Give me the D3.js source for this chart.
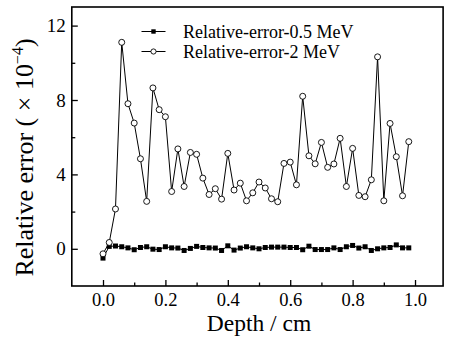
<!DOCTYPE html>
<html><head><meta charset="utf-8">
<script src="https://cdn.jsdelivr.net/npm/d3@7"></script>
<style>html,body{margin:0;padding:0;background:#fff;}svg{display:block;}</style>
</head><body>
<svg id="c" width="453" height="346"></svg>
<script>
const depth = d3.range(50).map(i => +(i * 0.02).toFixed(2));
const err05 = [-0.5, 0.13, 0.15, 0.11, 0.05, -0.05, 0.07, 0.11, -0.02, -0.04,
  0.11, 0.05, 0.04, -0.09, 0.02, 0.13, 0.07, 0.05, 0.04, -0.09,
  0.16, -0.07, 0.04, 0.11, 0.05, 0.0, 0.07, 0.09, 0.09, 0.09,
  0.07, 0.07, -0.05, 0.14, -0.04, -0.04, -0.04, 0.05, -0.04, 0.11,
  0.18, 0.04, 0.11, -0.09, 0.0, 0.05, 0.07, 0.21, 0.05, 0.05];
const err2 = [-0.27, 0.34, 2.14, 11.1, 7.8, 6.76, 4.84, 2.55, 8.65, 7.48,
  7.1, 3.08, 5.37, 3.35, 5.18, 5.08, 3.8, 2.92, 3.23, 2.67,
  5.13, 3.16, 3.53, 2.58, 3.01, 3.59, 3.27, 2.69, 2.53, 4.59,
  4.66, 3.44, 8.2, 5.0, 4.57, 5.72, 4.38, 4.56, 5.94, 3.35,
  5.4, 2.87, 2.8, 3.71, 10.32, 2.58, 6.74, 4.95, 2.85, 5.76];
const xTicks = [0, 0.2, 0.4, 0.6, 0.8, 1.0];
const yTicks = [0, 4, 8, 12];
const seriesNames = ["Relative-error-0.5 MeV", "Relative-error-2 MeV"];

const FONT = "'Liberation Serif','Times New Roman',serif";
const svg = d3.select("#c");
const x = d3.scaleLinear().domain([-0.1, 1.09]).range([71.8, 443.1]);
const y = d3.scaleLinear().domain([-2, 13]).range([286, 7]);
const L = x.range()[0], R = x.range()[1], T = y.range()[1], B = y.range()[0];

// frame
svg.append("rect").attr("x", L).attr("y", T).attr("width", R - L).attr("height", B - T)
  .attr("fill", "none").attr("stroke", "#000").attr("stroke-width", 1.6);

// x axis ticks (inward)
const xMinor = [0.1, 0.3, 0.5, 0.7, 0.9];
const gx = svg.append("g").attr("transform", `translate(0,${B})`)
  .call(d3.axisBottom(x).tickValues(xTicks).tickSize(-6).tickPadding(7).tickFormat(d3.format(".1f")));
gx.select(".domain").remove();
gx.selectAll(".tick line").attr("stroke-width", 1.3);
gx.selectAll("text").attr("font-family", FONT).attr("font-size", 18.5).attr("fill", "#000");
const gxm = svg.append("g").attr("transform", `translate(0,${B})`)
  .call(d3.axisBottom(x).tickValues(xMinor).tickSize(-3.5).tickFormat(""));
gxm.select(".domain").remove();
gxm.selectAll(".tick line").attr("stroke-width", 1.3);

// y axis ticks
const yMinor = [2, 6, 10];
const gy = svg.append("g").attr("transform", `translate(${L},0)`)
  .call(d3.axisLeft(y).tickValues(yTicks).tickSize(-6).tickPadding(6));
gy.select(".domain").remove();
gy.selectAll(".tick line").attr("stroke-width", 1.3);
gy.selectAll("text").attr("font-family", FONT).attr("font-size", 19).attr("fill", "#000");
const gym = svg.append("g").attr("transform", `translate(${L},0)`)
  .call(d3.axisLeft(y).tickValues(yMinor).tickSize(-3.5).tickFormat(""));
gym.select(".domain").remove();
gym.selectAll(".tick line").attr("stroke-width", 1.3);

// axis titles
svg.append("text").attr("x", x(0.5)).attr("y", 331).attr("text-anchor", "middle")
  .attr("font-family", FONT).attr("font-size", 23.5).text("Depth / cm");
const yt = svg.append("text").attr("transform", "translate(33,157.5) rotate(-90)")
  .attr("text-anchor", "middle").attr("font-family", FONT).attr("font-size", 26);
yt.append("tspan").text("Relative error ( × 10");
yt.append("tspan").attr("font-size", 16).attr("dy", -10).text("−4");
yt.append("tspan").attr("dy", 10).text(")");

// series
const line = d3.line().x((d, i) => x(depth[i])).y(d => y(d));
svg.append("path").datum(err05).attr("d", line).attr("fill", "none").attr("stroke", "#000").attr("stroke-width", 1);
svg.selectAll("rect.sq").data(err05).enter().append("rect").attr("class", "sq")
  .attr("x", (d, i) => x(depth[i]) - 2.5).attr("y", d => y(d) - 2.5)
  .attr("width", 5).attr("height", 5).attr("fill", "#000");
svg.append("path").datum(err2).attr("d", line).attr("fill", "none").attr("stroke", "#000").attr("stroke-width", 1);
svg.selectAll("circle.ci").data(err2).enter().append("circle").attr("class", "ci")
  .attr("cx", (d, i) => x(depth[i])).attr("cy", d => y(d)).attr("r", 3)
  .attr("fill", "#fff").attr("stroke", "#000").attr("stroke-width", 0.9);

// legend
const lg = svg.append("g");
const rows = [31.5, 51.5];
rows.forEach((ly, k) => {
  lg.append("line").attr("x1", 141.5).attr("x2", 165.5).attr("y1", ly).attr("y2", ly).attr("stroke", "#000").attr("stroke-width", 1);
  if (k === 0) lg.append("rect").attr("x", 153.5 - 2.2).attr("y", ly - 2.2).attr("width", 4.4).attr("height", 4.4).attr("fill", "#000");
  else lg.append("circle").attr("cx", 153.5).attr("cy", ly).attr("r", 2.6).attr("fill", "#fff").attr("stroke", "#000").attr("stroke-width", 0.9);
  lg.append("text").attr("x", 183).attr("y", ly + 6).attr("font-family", FONT).attr("font-size", 18).text(seriesNames[k]);
});
</script>
</body></html>
